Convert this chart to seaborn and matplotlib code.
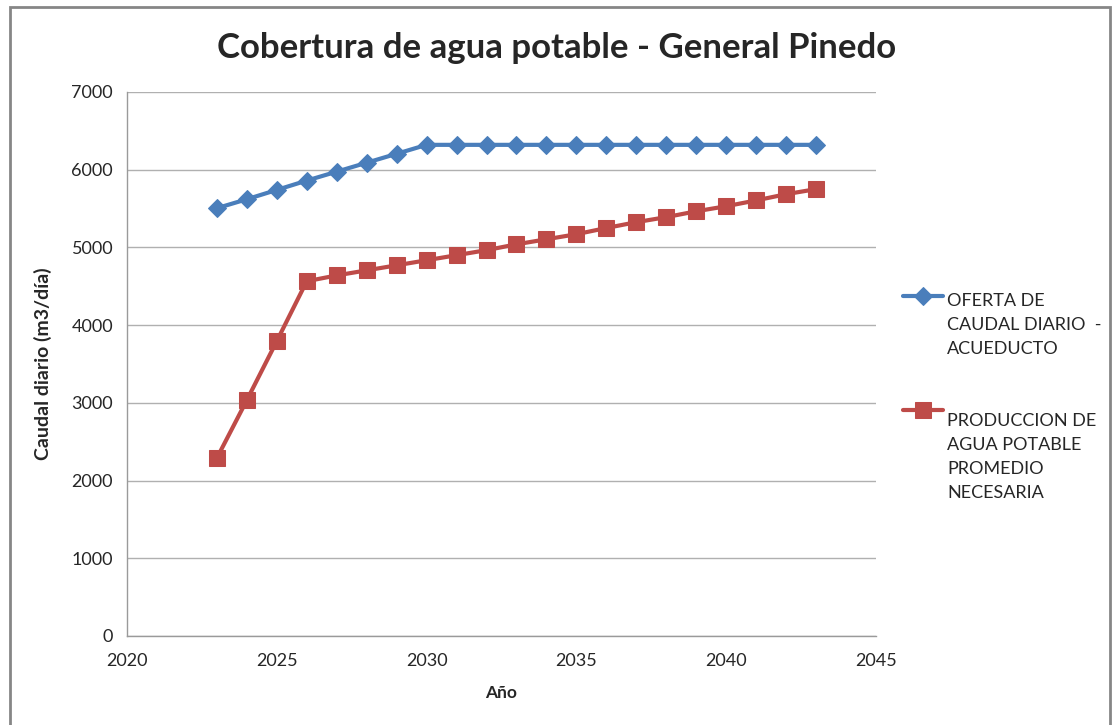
import matplotlib
matplotlib.use("Agg")
import matplotlib.pyplot as plt
import seaborn as sns
import pandas as pd
from matplotlib.patches import Rectangle
from matplotlib.legend_handler import HandlerLine2D

# data
years = list(range(2023, 2044))
oferta = [5505, 5620, 5740, 5860, 5975, 6090, 6205, 6320, 6320, 6320, 6320,
          6320, 6320, 6320, 6320, 6320, 6320, 6320, 6320, 6320, 6320]
produccion = [2290, 3035, 3795, 4565, 4640, 4705, 4770, 4835, 4900, 4965, 5040,
              5105, 5170, 5250, 5325, 5390, 5465, 5530, 5605, 5685, 5750]

label_oferta = "OFERTA DE\nCAUDAL DIARIO  -\nACUEDUCTO"
label_prod = "PRODUCCION DE\nAGUA POTABLE\nPROMEDIO\nNECESARIA"

df = pd.DataFrame({"Año": years, "oferta": oferta, "produccion": produccion})

sns.set_style("white")
plt.rcParams["font.family"] = ["Lato", "DejaVu Sans"]

LEG_FS = 13
LINE_SP = 1.62


# keep the legend marker level with the first line of a multi-line label
class TopHandler(HandlerLine2D):
    def __init__(self, nlines, **kw):
        super().__init__(**kw)
        self.shift = (nlines - 1) / 2 * LEG_FS * LINE_SP * 1.2 - 4

    def create_artists(self, legend, orig_handle, xdescent, ydescent,
                       width, height, fontsize, trans):
        return super().create_artists(legend, orig_handle, xdescent,
                                      ydescent - 2 * self.shift, width, height,
                                      fontsize, trans)


fig = plt.figure(figsize=(11.14, 7.25), dpi=100)
ax = fig.add_axes([127 / 1114, 89 / 725, 749 / 1114, 544 / 725])

# outer chart frame
fig.patches.append(Rectangle((10 / 1114, -0.05), 1100 / 1114, 1.05 - 7 / 725,
                             transform=fig.transFigure, fill=False,
                             edgecolor="#868686", linewidth=2))

sns.lineplot(data=df, x="Año", y="oferta", ax=ax, color="#4a7ebb", linewidth=3,
             marker="D", markersize=9, markeredgecolor="#4a7ebb", label=label_oferta)
sns.lineplot(data=df, x="Año", y="produccion", ax=ax, color="#be4b48", linewidth=3,
             marker="s", markersize=11, markeredgecolor="#be4b48", label=label_prod)

ax.set_xlim(2020, 2045)
ax.set_ylim(0, 7000)
ax.set_xticks(range(2020, 2046, 5))
ax.set_yticks(range(0, 7001, 1000))
ax.yaxis.grid(True, color="#b0b0b0", linewidth=1)
ax.xaxis.grid(False)
for side in ["top", "right"]:
    ax.spines[side].set_visible(False)
for side in ["left", "bottom"]:
    ax.spines[side].set_color("#9a9a9a")
    ax.spines[side].set_linewidth(1)
ax.tick_params(axis="y", length=4, color="#9a9a9a", labelsize=13, pad=6)
ax.tick_params(axis="x", length=0, labelsize=13, pad=12)

ax.set_xlabel("Año", fontsize=12.5, fontweight="bold", labelpad=12)
ax.set_ylabel("Caudal diario (m3/día)", fontsize=14, fontweight="bold", labelpad=14)
fig.text(0.5, 1 - 48 / 725, "Cobertura de agua potable - General Pinedo",
         fontsize=25, fontweight="bold", ha="center", va="center")

handles, labels = ax.get_legend_handles_labels()
leg = ax.legend(handles, labels, loc="center left",
                bbox_to_anchor=(903 / 1114, 1 - 397 / 725),
                bbox_transform=fig.transFigure, frameon=False, fontsize=LEG_FS,
                handlelength=2.2, handletextpad=0.25, labelspacing=3.1,
                borderpad=0, borderaxespad=0,
                handler_map={handles[0]: TopHandler(3), handles[1]: TopHandler(4)})
for t in leg.get_texts():
    t.set_linespacing(LINE_SP)

fig.savefig("out.png", dpi=100)
